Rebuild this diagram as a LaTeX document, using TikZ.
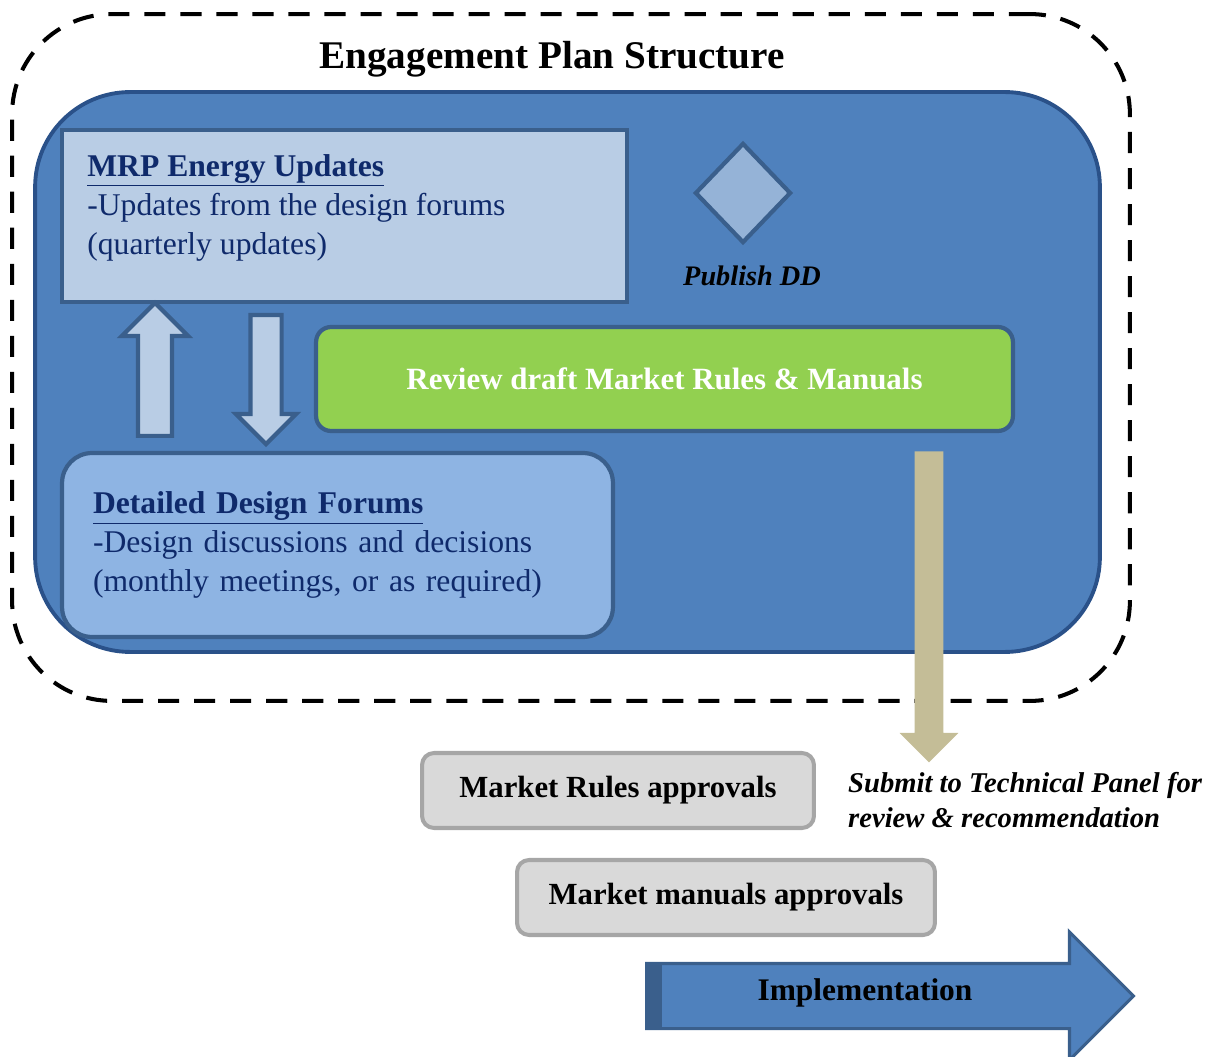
\documentclass[tikz,border=0pt]{standalone}
\usepackage{fontspec}
\setmainfont{Liberation Serif}
\usetikzlibrary{shapes.geometric,shapes.arrows}

\definecolor{planblue}{HTML}{4F81BD}
\definecolor{planedge}{HTML}{2A5189}
\definecolor{boxedge}{HTML}{3A5F8C}
\definecolor{mrpfill}{HTML}{B9CDE5}
\definecolor{ddfill}{HTML}{95B3D7}
\definecolor{forumfill}{HTML}{8EB4E3}
\definecolor{reviewgreen}{HTML}{92D050}
\definecolor{submittan}{HTML}{C4BD97}
\definecolor{apprfill}{HTML}{D9D9D9}
\definecolor{appredge}{HTML}{A6A6A6}
\definecolor{navy}{HTML}{0F2A6B}

\begin{document}
\begin{tikzpicture}[x=0.02cm,y=-0.02cm,
  inbox/.style={draw=boxedge,line width=2.4pt},
  bodytext/.style={font=\fontsize{18}{22.2}\selectfont,text=navy,align=left},
  apprbox/.style={draw=appredge,fill=apprfill,line width=2.3pt,rounded corners=0.24cm,
    minimum height=1.5cm,font=\fontsize{17.5}{19}\selectfont\bfseries},
  blockarrow/.style={single arrow,single arrow head indent=0pt,anchor=tail}]
\useasboundingbox (0,0) rectangle (1207,1057);
\node[draw,line width=2.3pt,dash pattern=on 12pt off 8.5pt,rounded corners=2cm,
  minimum width=22.36cm,minimum height=13.74cm] (plan) at (571,357.5) {};
\node[font=\fontsize{22.3}{25}\selectfont\bfseries] (title) at (552,59) {Engagement Plan Structure};
\node[draw=planedge,fill=planblue,line width=2.2pt,rounded corners=1.9cm,
  minimum width=21.3cm,minimum height=11.2cm] (inner) at (567.5,372) {};
\node[inbox,fill=mrpfill,minimum width=11.3cm,minimum height=3.44cm] (mrp) at (344.5,216) {};
\node[bodytext,anchor=north west,inner sep=0pt] (mrptext) at (87,154)
  {\textbf{\underline{MRP Energy Updates}}\\-Updates from the design forums\\(quarterly updates)};
\node[diamond,inbox,fill=ddfill,inner sep=0pt,minimum width=1.92cm,minimum height=2cm] (dd) at (743,193) {};
\node[font=\fontsize{16.1}{19}\selectfont\bfseries\itshape] (pub) at (752,276) {Publish DD};
\node[inbox,fill=reviewgreen,rounded corners=0.3cm,minimum width=13.94cm,minimum height=2.08cm,
  text=white,font=\fontsize{17.6}{19}\selectfont\bfseries] (review) at (664.5,379) {Review draft Market Rules \& Manuals};
\node[inbox,fill=forumfill,rounded corners=0.6cm,bodytext,minimum height=3.68cm,
  text width=9.78cm,inner xsep=0.62cm] (ddf) at (337.5,545)
  {\textbf{\underline{Detailed Design Forums}}\\-Design discussions and decisions\\(monthly meetings, or as required)};
\node[blockarrow,inbox,fill=mrpfill,shape border rotate=90,inner sep=0.3cm,minimum height=2.66cm,
  minimum width=1.24cm,single arrow head extend=0.32cm] (up) at (155,438) {};
\node[blockarrow,inbox,fill=mrpfill,shape border rotate=270,inner sep=0.27cm,minimum height=2.58cm,
  minimum width=1.12cm,single arrow head extend=0.29cm] (down) at (266,313) {};
\node[blockarrow,fill=submittan,shape border rotate=270,inner sep=0.28cm,minimum height=6.22cm,
  minimum width=1.16cm,single arrow head extend=0.3cm] (submit) at (929,451) {};
\node[anchor=west,align=left,font=\fontsize{16.3}{19.8}\selectfont\bfseries\itshape] (submittext) at (842,800)
  {Submit to Technical Panel for\\review \& recommendation};
\node[apprbox,minimum width=7.84cm] (rules) at (618,790.5) {Market Rules approvals};
\node[apprbox,minimum width=8.36cm] (manuals) at (726,897.5) {Market manuals approvals};
\node[blockarrow,draw=boxedge,fill=planblue,line width=1.8pt,inner sep=0.62cm,minimum height=9.74cm,
  minimum width=2.5cm,single arrow head extend=0.63cm] (impl) at (645,996) {};
\fill[boxedge] (645,965) rectangle (662,1027);
\node[font=\fontsize{17.9}{19}\selectfont\bfseries] (impltext) at (865,993) {Implementation};
\end{tikzpicture}
\end{document}
